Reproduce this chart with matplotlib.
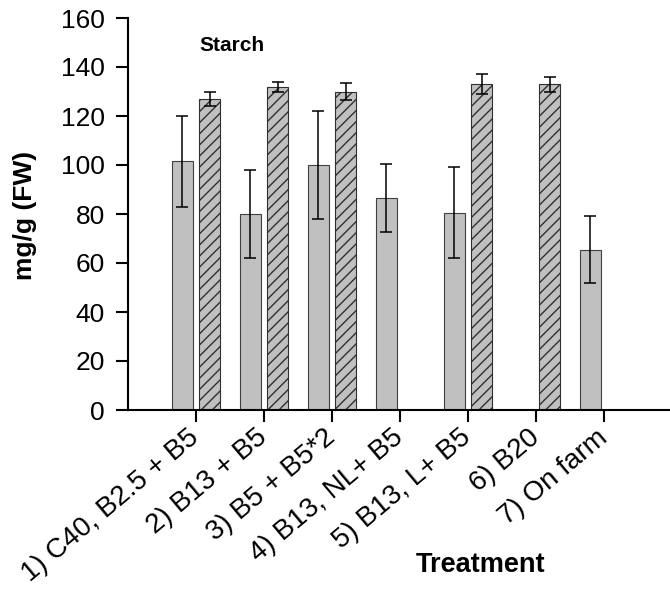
import numpy as np
import matplotlib
matplotlib.use('Agg')
import matplotlib.pyplot as plt

plt.rcParams['font.family'] = ['Liberation Sans', 'DejaVu Sans']
plt.rcParams['hatch.linewidth'] = 1.0

# Data (mg/g FW), nan = no bar
treatments = ['1) C40, B2.5 + B5', '2) B13 + B5', '3) B5 + B5*2', '4) B13, NL+ B5',
              '5) B13, L+ B5', '6) B20', '7) On farm']
plain_mean = [101.5, 80.0, 100.0, 86.5, 80.5, np.nan, 65.5]
plain_err = [18.5, 18.0, 22.0, 14.0, 18.5, np.nan, 13.5]
hatched_mean = [127.0, 132.0, 130.0, np.nan, 133.0, 133.0, np.nan]
hatched_err = [3.0, 2.0, 3.5, np.nan, 4.0, 3.0, np.nan]

x = np.arange(len(treatments))
width = 0.32
offset = 0.2

fig = plt.figure(figsize=(6.7, 5.97), dpi=100)
ax = fig.add_axes([128 / 670, 187 / 597, 544 / 670, 392 / 597])

err_kw = dict(ecolor='black', elinewidth=1.1, capsize=4.5, capthick=1.1)
ax.bar(x - offset, plain_mean, width, color='#c0c0c0', edgecolor='#404040',
       linewidth=0.8, yerr=plain_err, error_kw=err_kw)
ax.bar(x + offset, hatched_mean, width, color='#c0c0c0', edgecolor='#303030',
       linewidth=0.8, hatch='///', yerr=hatched_err, error_kw=err_kw)

ax.set_xlim(-1, 7)
ax.set_ylim(0, 160)
ax.set_yticks(np.arange(0, 161, 20))
ax.set_xticks(x)
ax.set_xticklabels(treatments, rotation=40, ha='right', va='center',
                   rotation_mode='anchor', fontsize=20)

for side in ['top', 'right']:
    ax.spines[side].set_visible(False)
for side in ['left', 'bottom']:
    ax.spines[side].set_linewidth(1.5)
ax.tick_params(axis='both', direction='out', length=8.5, width=1.5)
ax.tick_params(axis='y', labelsize=19, pad=8)
ax.tick_params(axis='x', pad=9)

ax.text(0.132, 0.931, 'Starch', transform=ax.transAxes, fontsize=15,
        fontweight='bold', va='center', ha='left')

fig.text(25 / 670, (597 - 215) / 597, 'mg/g (FW)', rotation=90, fontsize=19,
         fontweight='bold', ha='center', va='center')
fig.text(481 / 670, (597 - 565) / 597, 'Treatment', fontsize=19.5,
         fontweight='bold', ha='center', va='center')

fig.savefig('out.png', dpi=100)
